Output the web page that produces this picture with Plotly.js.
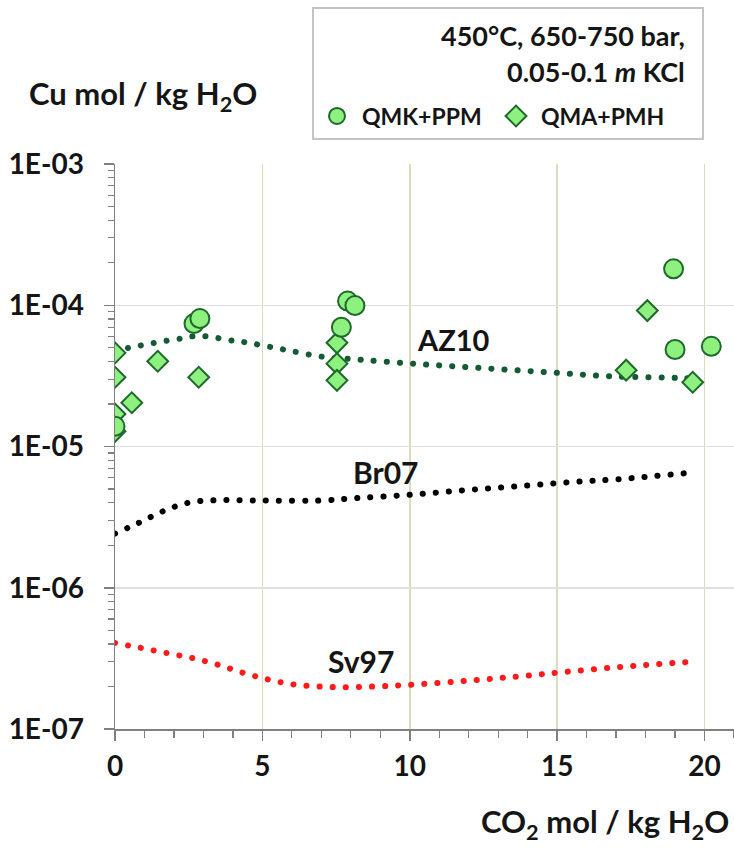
<!DOCTYPE html>
<html>
<head>
<meta charset="utf-8">
<script src="https://cdn.plot.ly/plotly-3.0.1.min.js"></script>
<style>html,body{margin:0;padding:0;background:#fff;}#chart{width:734px;height:848px;}</style>
</head>
<body>
<div id="chart"></div>
<script>
// ---- data ----
const qmkX = [0, 2.68, 2.88, 7.68, 7.89, 8.14, 18.95, 19.0, 20.23];
const qmkY = [1.39e-5, 7.42e-5, 8.05e-5, 6.99e-5, 1.07e-4, 9.95e-5, 1.81e-4, 4.86e-5, 5.12e-5];

const qmaX = [0, 0, 0, 0, 0.57, 1.45, 2.84, 7.53, 7.53, 7.53, 17.34, 18.06, 19.6];
const qmaY = [4.6e-5, 3.09e-5, 1.70e-5, 1.28e-5, 2.04e-5, 4.01e-5, 3.09e-5, 5.42e-5, 3.86e-5, 2.94e-5, 3.47e-5, 9.17e-5, 2.85e-5];

const az10X = [0, 0.45, 1.34, 2.22, 2.65, 3.09, 3.98, 4.42, 5.72, 7.07, 7.92, 10.18, 12.38, 14.64, 16.84, 19.09, 19.6];
const az10Y = [4.8e-5, 4.99e-5, 5.42e-5, 5.81e-5, 6.03e-5, 6.03e-5, 5.62e-5, 5.47e-5, 4.86e-5, 4.31e-5, 4.17e-5, 3.85e-5, 3.6e-5, 3.36e-5, 3.14e-5, 3.06e-5, 3.03e-5];

const br07X = [0, 0.81, 1.63, 2.45, 3.34, 5.12, 6.9, 8.27, 10.05, 11.83, 13.61, 15.39, 17.17, 19.45];
const br07Y = [2.42e-6, 2.88e-6, 3.48e-6, 3.98e-6, 4.16e-6, 4.14e-6, 4.14e-6, 4.32e-6, 4.56e-6, 4.9e-6, 5.22e-6, 5.58e-6, 5.89e-6, 6.5e-6];

const sv97X = [0, 0.88, 1.75, 2.62, 3.5, 4.37, 5.24, 6.11, 7.43, 8.8, 10.07, 11.98, 13.72, 15.47, 17.7, 19.43];
const sv97Y = [4.06e-7, 3.75e-7, 3.45e-7, 3.18e-7, 2.85e-7, 2.49e-7, 2.23e-7, 2.06e-7, 1.98e-7, 2.0e-7, 2.06e-7, 2.2e-7, 2.36e-7, 2.56e-7, 2.81e-7, 2.98e-7];

const curveNames = ["AZ10", "Br07", "Sv97"];
const seriesNames = ["QMK+PPM", "QMA+PMH"];
const yTickVals = [1e-7, 1e-6, 1e-5, 1e-4, 1e-3];
const yTickText = ["1E-07", "1E-06", "1E-05", "1E-04", "1E-03"];
const xTickVals = [0, 5, 10, 15, 20];
const xTickText = ["0", "5", "10", "15", "20"];

// ---- styling ----
const FONT = "Lato, 'Noto Sans', sans-serif";
const TXT = "#151515";
const dotDash = "0.1px,13px";

const minorY = [];
for (let e = -7; e < -3; e++) for (let m = 2; m <= 9; m++) minorY.push(m * Math.pow(10, e));

const traces = [
  {x: az10X, y: az10Y, mode: "lines", name: curveNames[0], showlegend: false,
   line: {color: "#145a34", width: 6, dash: dotDash, shape: "spline"}, hoverinfo: "skip"},
  {x: br07X, y: br07Y, mode: "lines", name: curveNames[1], showlegend: false,
   line: {color: "#000000", width: 6, dash: dotDash, shape: "spline"}, hoverinfo: "skip"},
  {x: sv97X, y: sv97Y, mode: "lines", name: curveNames[2], showlegend: false,
   line: {color: "#ff1a1a", width: 6, dash: dotDash, shape: "spline"}, hoverinfo: "skip"},
  {x: qmaX, y: qmaY, mode: "markers", name: seriesNames[1],
   marker: {symbol: "diamond", size: 16, color: "#8ef07e", line: {color: "#1d6a2c", width: 2}}},
  {x: qmkX, y: qmkY, mode: "markers", name: seriesNames[0],
   marker: {symbol: "circle", size: 19, color: "#8ef07e", line: {color: "#1d6a2c", width: 2}}}
];

const L = 115, T = 164, W = 734 - L - 0, H = 848 - T - 119;
const px = v => (v - L) / W;
const py = v => (T + H - v) / H;

const layout = {
  width: 734, height: 848,
  margin: {l: L, r: 0, t: T, b: 119, pad: 0},
  paper_bgcolor: "#ffffff", plot_bgcolor: "#ffffff",
  font: {family: FONT, color: TXT, size: 20, weight: "bold"},
  showlegend: true,
  legend: {orientation: "h", traceorder: "reversed", x: px(312), y: py(116), xanchor: "left", yanchor: "middle",
           bgcolor: "rgba(0,0,0,0)", borderwidth: 0, font: {family: FONT, size: 23, color: TXT, weight: "bold"},
           itemwidth: 40, entrywidth: 124, entrywidthmode: "pixels"},
  xaxis: {range: [0, 21], tickmode: "array", tickvals: xTickVals, ticktext: xTickText,
          ticks: "outside", ticklen: 10, tickwidth: 1.5, tickcolor: "#808080",
          showline: true, linecolor: "#808080", linewidth: 1.5, zeroline: false,
          showgrid: true, gridcolor: "#dcdcbc", gridwidth: 1.5,
          tickfont: {family: FONT, size: 28, color: TXT, weight: "bold"}, ticklabelstandoff: 2,
          minor: {dtick: 1, tick0: 0, ticks: "outside", ticklen: 7, tickwidth: 1.2, tickcolor: "#808080", showgrid: false}},
  yaxis: {type: "log", range: [-7, -3], tickmode: "array", tickvals: yTickVals, ticktext: yTickText,
          ticks: "outside", ticklen: 10, tickwidth: 1.5, tickcolor: "#808080",
          showline: true, linecolor: "#808080", linewidth: 1.5, zeroline: false,
          showgrid: true, gridcolor: "#e0e0e0", gridwidth: 1.5,
          tickfont: {family: FONT, size: 28, color: TXT, weight: "bold"}, ticklabelstandoff: 14,
          minor: {tickmode: "array", tickvals: minorY, ticks: "outside", ticklen: 6, tickwidth: 1.2, tickcolor: "#808080", showgrid: false}},
  shapes: [
    {type: "rect", xref: "paper", yref: "paper", x0: px(313), x1: px(703), y0: py(139), y1: py(8),
     line: {color: "#c4c4c4", width: 2}, fillcolor: "rgba(0,0,0,0)"}
  ],
  annotations: [
    {xref: "paper", yref: "paper", x: px(687), y: py(35), xanchor: "right", yanchor: "middle", showarrow: false,
     text: "450°C, 650-750 bar,", font: {family: FONT, size: 27, color: TXT, weight: "bold"}},
    {xref: "paper", yref: "paper", x: px(687), y: py(71), xanchor: "right", yanchor: "middle", showarrow: false,
     text: "0.05-0.1 <i>m</i> KCl", font: {family: FONT, size: 27, color: TXT, weight: "bold"}},
    {xref: "paper", yref: "paper", x: px(27), y: py(96), xanchor: "left", yanchor: "middle", showarrow: false,
     text: "Cu mol / kg H<sub>2</sub>O", font: {family: FONT, size: 31, color: TXT, weight: "bold"}},
    {xref: "paper", yref: "paper", x: px(731), y: py(823), xanchor: "right", yanchor: "middle", showarrow: false,
     text: "CO<sub>2</sub> mol / kg H<sub>2</sub>O", font: {family: FONT, size: 31, color: TXT, weight: "bold"}},
    {x: 11.5, y: Math.log10(5.71e-5), xref: "x", yref: "y", showarrow: false, text: curveNames[0],
     font: {family: FONT, size: 29, color: TXT, weight: "bold"}},
    {x: 9.19, y: Math.log10(6.59e-6), xref: "x", yref: "y", showarrow: false, text: curveNames[1],
     font: {family: FONT, size: 30, color: TXT, weight: "bold"}},
    {x: 8.33, y: Math.log10(3.05e-7), xref: "x", yref: "y", showarrow: false, text: curveNames[2],
     font: {family: FONT, size: 30, color: TXT, weight: "bold"}}
  ]
};

Plotly.newPlot("chart", traces, layout, {displayModeBar: false, staticPlot: true}).then(function (gd) {
  // round line caps turn the short dashes into round dots, as in the reference
  gd.querySelectorAll(".scatterlayer .js-line").forEach(function (p) {
    p.style.strokeLinecap = "round";
  });
});
</script>
</body>
</html>
